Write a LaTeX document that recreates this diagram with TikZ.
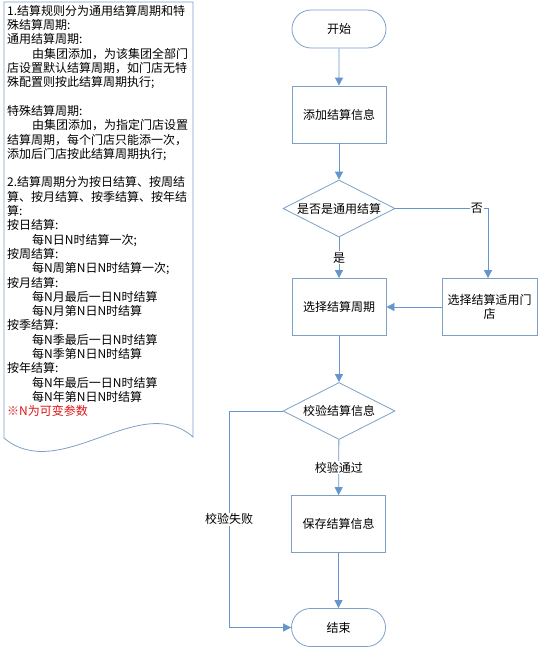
\documentclass[tikz,border=0pt]{standalone}
\usepackage{fontspec}
\setmainfont{Noto Sans CJK SC}
\usetikzlibrary{shapes.geometric,shapes.misc,arrows.meta}
\definecolor{lineblue}{RGB}{100,150,205}
\definecolor{edgeblue}{RGB}{125,160,200}
\definecolor{noteRed}{RGB}{220,20,20}
\begin{document}
\begin{tikzpicture}[x=1pt,y=-1pt,
  every node/.style={font=\fontsize{12}{14.3}\selectfont},
  stadium/.style={rounded rectangle,draw=edgeblue,line width=0.8pt,minimum width=94pt,minimum height=38pt,inner sep=0pt},
  procbox/.style={rectangle,draw=edgeblue,line width=0.8pt,minimum width=94pt,minimum height=57pt,inner sep=0pt,align=center},
  decide/.style={diamond,aspect=2,draw=edgeblue,line width=0.8pt,minimum width=112pt,minimum height=57pt,inner sep=0pt},
  flow/.style={draw=lineblue,line width=0.8pt,-{Triangle[width=8pt,length=8pt]}},
  lbl/.style={fill=white,inner sep=1pt}
]
\useasboundingbox (0,0) rectangle (538,648);
% document note shape
\draw[edgeblue,line width=0.8pt] (4,2) -- (193,2) -- (193,437)
  .. controls (140,390) and (60,485) .. (4,438) -- cycle;
\node[anchor=north west,align=left,inner sep=0pt] (note) at (7,5) {%
1.结算规则分为通用结算周期和特\\
殊结算周期:\\
通用结算周期:\\
\hspace*{25pt}由集团添加，为该集团全部门\\
店设置默认结算周期，如门店无特\\
殊配置则按此结算周期执行;\\[14.3pt]
特殊结算周期:\\
\hspace*{25pt}由集团添加，为指定门店设置\\
结算周期，每个门店只能添一次，\\
添加后门店按此结算周期执行;\\[14.3pt]
2.结算周期分为按日结算、按周结\\
算、按月结算、按季结算、按年结\\
算:\\
按日结算:\\
\hspace*{25pt}每N日N时结算一次;\\
按周结算:\\
\hspace*{25pt}每N周第N日N时结算一次;\\
按月结算:\\
\hspace*{25pt}每N月最后一日N时结算\\
\hspace*{25pt}每N月第N日N时结算\\
按季结算:\\
\hspace*{25pt}每N季最后一日N时结算\\
\hspace*{25pt}每N季第N日N时结算\\
按年结算:\\
\hspace*{25pt}每N年最后一日N时结算\\
\hspace*{25pt}每N年第N日N时结算\\
\textcolor{noteRed}{※N为可变参数}};
% flowchart
\node[stadium] (start) at (339,29) {开始};
\node[procbox] (add) at (339,114.5) {添加结算信息};
\node[decide] (q1) at (339,208.5) {是否是通用结算};
\node[procbox] (period) at (339,307) {选择结算周期};
\node[procbox,minimum width=95pt] (store) at (489.5,307) {选择结算适用门\\店};
\node[decide] (q2) at (339,411) {校验结算信息};
\node[procbox] (save) at (338.5,524) {保存结算信息};
\node[stadium] (end) at (338.5,627.5) {结束};
\coordinate (c1) at (488,208.5);
\coordinate (c2) at (229,411);
\coordinate (c3) at (229,627.5);
\draw[flow] (start) -- (add);
\draw[flow] (add) -- (q1);
\draw[flow] (q1) -- node[lbl,pos=0.5] {是} (period);
\draw[flow] (q1.east) -- node[lbl,pos=0.88] {否} (c1) -- (store.north -| c1);
\draw[flow] (store) -- (period);
\draw[flow] (period) -- (q2);
\draw[flow] (q2) -- node[lbl,pos=0.5] {校验通过} (save);
\draw[flow] (save) -- (end);
\draw[flow] (q2.west) -- (c2) -- node[lbl,pos=0.5] {校验失败} (c3) -- (end.west);
\end{tikzpicture}
\end{document}
